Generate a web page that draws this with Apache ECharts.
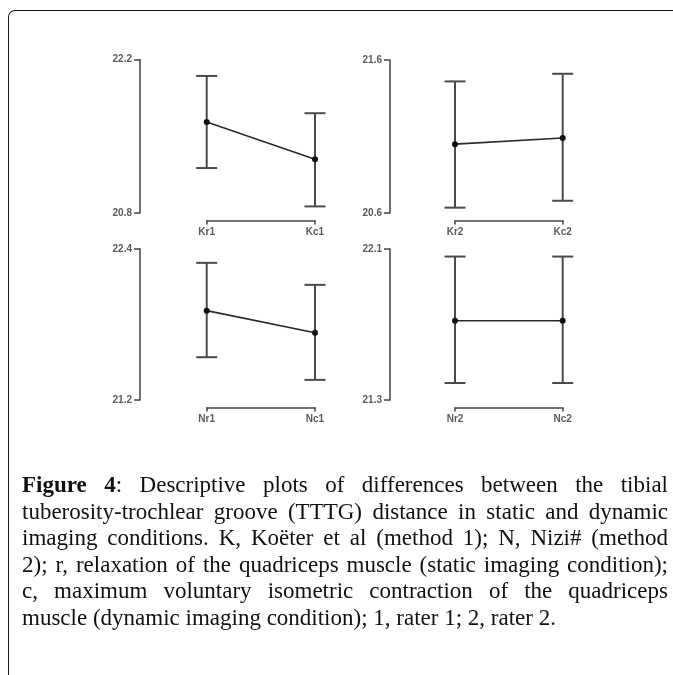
<!DOCTYPE html>
<html>
<head>
<meta charset="utf-8">
<script src="https://cdn.jsdelivr.net/npm/echarts@6/dist/echarts.min.js"></script>
<style>
html,body{margin:0;padding:0;background:#fff;width:673px;height:675px;overflow:hidden;}
#frame{position:absolute;left:8px;top:10px;width:720px;height:720px;border-left:1.5px solid #1a1a1a;border-top:1.5px solid #1a1a1a;border-top-left-radius:7px;box-sizing:border-box;}
#chart{position:absolute;left:0;top:0;width:673px;height:675px;}
#caption{position:absolute;left:22px;top:472px;width:646px;font-family:"Liberation Serif",serif;font-size:23px;line-height:26.5px;color:#111;}
#caption div{text-align:justify;text-align-last:justify;}
#caption div.last{text-align:left;text-align-last:left;}
</style>
</head>
<body>
<div id="frame"></div>
<div id="chart"></div>
<div id="caption">
<div><b>Figure 4</b>: Descriptive plots of differences between the tibial</div>
<div>tuberosity-trochlear groove (TTTG) distance in static and dynamic</div>
<div>imaging conditions. K, Koëter et al (method 1); N, Nizi# (method</div>
<div>2); r, relaxation of the quadriceps muscle (static imaging condition);</div>
<div>c, maximum voluntary isometric contraction of the quadriceps</div>
<div class="last">muscle (dynamic imaging condition); 1, rater 1; 2, rater 2.</div>
</div>
<script>
// ---- data ----
const catsK1 = ['Kr1', 'Kc1'];
const meanK1 = [21.63, 21.29];
const lowK1  = [21.21, 20.86];
const highK1 = [22.05, 21.71];
const ticksK1 = [20.8, 22.2];

const catsK2 = ['Kr2', 'Kc2'];
const meanK2 = [21.05, 21.09];
const lowK2  = [20.635, 20.68];
const highK2 = [21.46, 21.51];
const ticksK2 = [20.6, 21.6];

const catsN1 = ['Nr1', 'Nc1'];
const meanN1 = [21.91, 21.735];
const lowN1  = [21.54, 21.36];
const highN1 = [22.29, 22.115];
const ticksN1 = [21.2, 22.4];

const catsN2 = ['Nr2', 'Nc2'];
const meanN2 = [21.72, 21.72];
const lowN2  = [21.39, 21.39];
const highN2 = [22.06, 22.06];
const ticksN2 = [21.3, 22.1];

const panels = [
  {cats: catsK1, mean: meanK1, low: lowK1, high: highK1, ticks: ticksK1, grid: {left: 206.7, top: 59.5, width: 108.3, height: 153.5}, yOff: 66.7},
  {cats: catsK2, mean: meanK2, low: lowK2, high: highK2, ticks: ticksK2, grid: {left: 455, top: 60, width: 107.7, height: 153}, yOff: 65},
  {cats: catsN1, mean: meanN1, low: lowN1, high: highN1, ticks: ticksN1, grid: {left: 206.7, top: 249, width: 108.3, height: 151}, yOff: 66.7},
  {cats: catsN2, mean: meanN2, low: lowN2, high: highN2, ticks: ticksN2, grid: {left: 455, top: 249, width: 107.7, height: 151}, yOff: 65}
];

const axisColor = '#444';
const labelStyle = {fontFamily: 'Liberation Sans, Arial, sans-serif', fontSize: 10, fontWeight: 'bold', color: '#5a5a5a'};

const grids = [], xAxes = [], yAxes = [], series = [];
panels.forEach((p, i) => {
  grids.push(p.grid);
  xAxes.push({
    type: 'category', gridIndex: i, data: p.cats, boundaryGap: false, offset: 7.5,
    axisLine: {show: true, lineStyle: {color: axisColor, width: 1.5}},
    axisTick: {show: true, length: 4, lineStyle: {color: axisColor, width: 1.5}},
    axisLabel: Object.assign({margin: 7}, labelStyle),
    splitLine: {show: false}
  });
  yAxes.push({
    type: 'value', gridIndex: i, min: p.ticks[0], max: p.ticks[1], offset: p.yOff,
    axisLine: {show: true, lineStyle: {color: axisColor, width: 1.5}},
    axisTick: {show: true, length: 6, customValues: p.ticks, lineStyle: {color: axisColor, width: 1.5}},
    axisLabel: Object.assign({margin: 8, customValues: p.ticks, formatter: v => Number(v).toFixed(1)}, labelStyle),
    splitLine: {show: false}
  });
  series.push({
    type: 'custom', xAxisIndex: i, yAxisIndex: i,
    data: p.cats.map((c, j) => [j, p.low[j], p.high[j]]),
    encode: {x: 0, y: [1, 2]},
    renderItem: function (params, api) {
      const xi = api.value(0);
      const lo = api.coord([xi, api.value(1)]);
      const hi = api.coord([xi, api.value(2)]);
      const hw = 10.5;
      const st = {stroke: '#4a4a4a', lineWidth: 2};
      return {type: 'group', children: [
        {type: 'line', shape: {x1: lo[0], y1: lo[1], x2: hi[0], y2: hi[1]}, style: st},
        {type: 'line', shape: {x1: hi[0] - hw, y1: hi[1], x2: hi[0] + hw, y2: hi[1]}, style: st},
        {type: 'line', shape: {x1: lo[0] - hw, y1: lo[1], x2: lo[0] + hw, y2: lo[1]}, style: st}
      ]};
    },
    z: 2
  });
  series.push({
    type: 'line', xAxisIndex: i, yAxisIndex: i, data: p.mean,
    symbol: 'circle', symbolSize: 6,
    itemStyle: {color: '#111'},
    lineStyle: {color: '#2a2a2a', width: 1.6},
    z: 3
  });
});

const chart = echarts.init(document.getElementById('chart'), null, {renderer: 'canvas'});
chart.setOption({
  animation: false,
  grid: grids,
  xAxis: xAxes,
  yAxis: yAxes,
  series: series
});
</script>
</body>
</html>
